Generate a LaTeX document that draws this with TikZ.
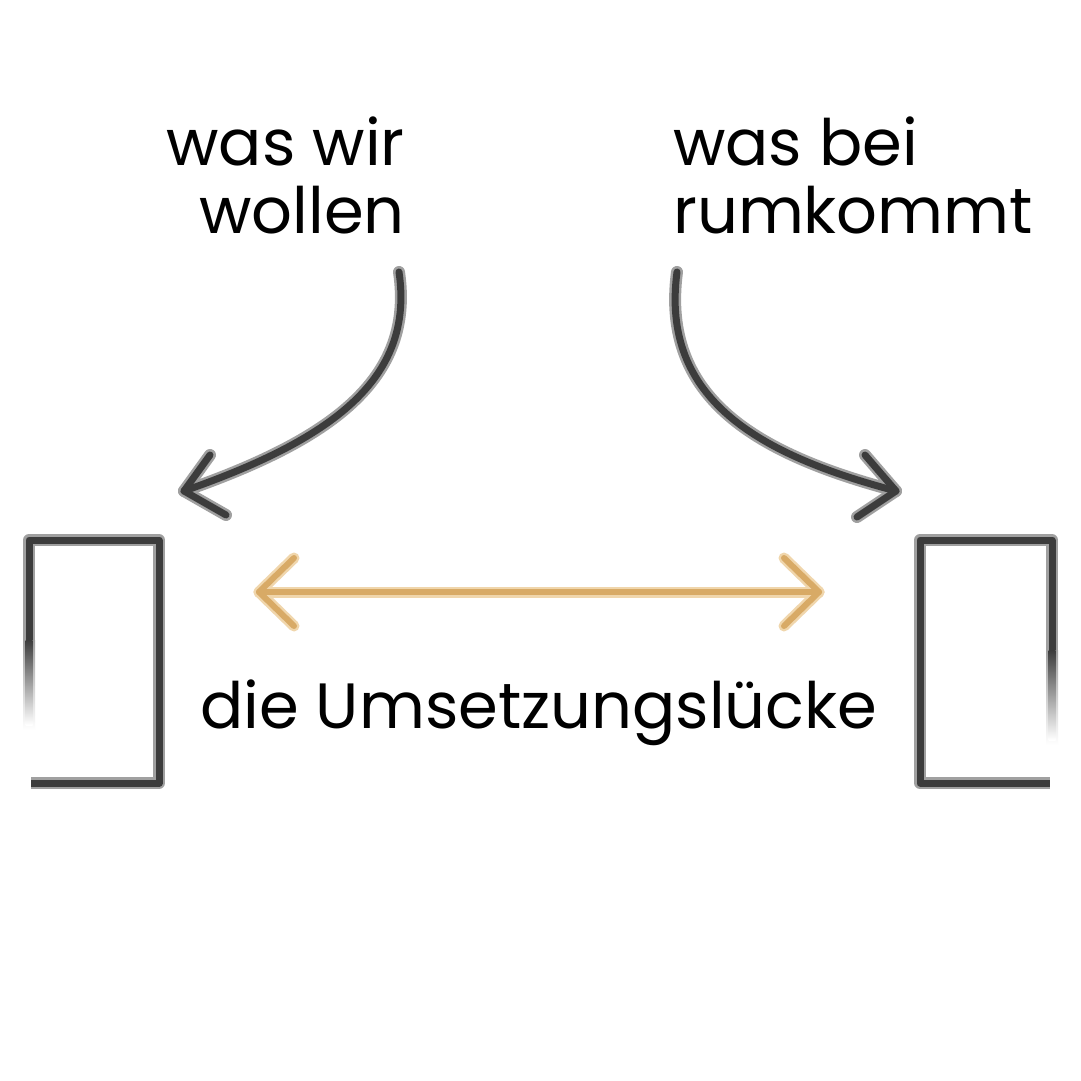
\documentclass[tikz,border=0pt]{standalone}
\usepackage{fontspec}
\setmainfont{Poppins}
\definecolor{inkdark}{RGB}{60,60,60}
\definecolor{inklight}{RGB}{160,160,160}
\definecolor{golddark}{RGB}{216,170,102}
\definecolor{goldlight}{RGB}{240,214,172}
\tikzset{
  lbl/.style={inner sep=0pt, font=\fontsize{64}{68}\selectfont, text=black},
  brushlight/.style={line width=12pt, draw=inklight, line cap=round, line join=round},
  brushdark/.style={line width=7pt, draw=inkdark, line cap=round, line join=round},
  flat/.style={line cap=butt},
  goldlightline/.style={line width=11pt, draw=goldlight, line cap=round, line join=round},
  golddarkline/.style={line width=6pt, draw=golddark, line cap=round, line join=round},
}
\begin{document}
\begin{tikzpicture}[x=1pt,y=-1pt]
\useasboundingbox[fill=white] (0,0) rectangle (1081,1081);

% labels
\node[lbl, anchor=base east, align=right] (want) at (405,233) {was wir\\wollen};
\node[lbl, anchor=base west, align=left] (get) at (673,233) {was bei\\rumkommt};
\node[lbl, anchor=base west] (gap) at (200,728) {die Umsetzungslücke};

% arrow coordinates
\coordinate (lstart) at (399,272);
\coordinate (ltip) at (184,491);
\coordinate (rstart) at (677,272);
\coordinate (rtip) at (896,491);

% left curved arrow
\foreach \s in {brushlight,brushdark}{
  \draw[\s] (lstart) .. controls (415,380) and (330,440) .. (ltip);
  \draw[\s] (210,455) -- (ltip) -- (226,515);
}
% right curved arrow
\foreach \s in {brushlight,brushdark}{
  \draw[\s] (rstart) .. controls (660,400) and (760,455) .. (rtip);
  \draw[\s] (865,455) -- (rtip) -- (857,517);
}

% left rectangle (left side fades out)
\coordinate (lr0) at (29,640);
\coordinate (lr1) at (29,540);
\coordinate (lr2) at (159,540);
\coordinate (lr3) at (159,783);
\coordinate (lr4) at (31,783);
\foreach \s in {brushlight,brushdark}{
  \draw[\s, flat] (lr0) -- (lr1) -- (lr2) -- (lr3) -- (lr4);
}
\shade[top color=inklight, bottom color=white] (23,640) rectangle (35,730);
\shade[top color=inkdark, bottom color=white] (25.5,640) rectangle (32.5,725);

% right rectangle (right side fades out)
\coordinate (rr0) at (1052,650);
\coordinate (rr1) at (1052,540);
\coordinate (rr2) at (920,540);
\coordinate (rr3) at (920,783);
\coordinate (rr4) at (1050,783);
\foreach \s in {brushlight,brushdark}{
  \draw[\s, flat] (rr0) -- (rr1) -- (rr2) -- (rr3) -- (rr4);
}
\shade[top color=inklight, bottom color=white] (1046,650) rectangle (1058,745);
\shade[top color=inkdark, bottom color=white] (1048.5,650) rectangle (1055.5,740);

% gold double arrow
\coordinate (gl) at (259,592);
\coordinate (gr) at (819,592);
\foreach \s in {goldlightline,golddarkline}{
  \draw[\s] (gl) -- (gr);
  \draw[\s] (294,558) -- (gl) -- (294,626);
  \draw[\s] (784,558) -- (gr) -- (784,626);
}
\end{tikzpicture}
\end{document}
